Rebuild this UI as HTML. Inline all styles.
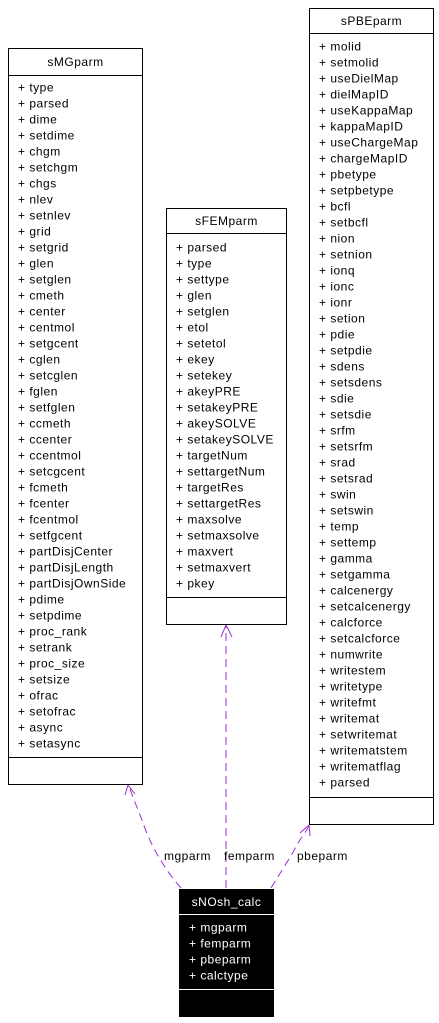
<!DOCTYPE html>
<html><head><meta charset="utf-8"><style>
html,body{margin:0;padding:0;background:#fff;}
svg{display:block;font-family:"Liberation Sans",Arial,sans-serif;font-size:12px;letter-spacing:0.5px;}
</style></head><body>
<svg id="d" width="439" height="1023" viewBox="0 0 439 1023">
<g id="edges" fill="none" stroke="#9a32cd" stroke-width="1" stroke-dasharray="8,5">
<path d="M181,888 C165,870 150,845 142,820 C136,805 132,795 129,786"/>
<path d="M226,888 L226,626"/>
<path d="M271,888 C282,870 292,855 298,843 C303,835 307,830 309,826"/>
</g>
<g stroke="#9a32cd" stroke-width="1" fill="none">
<path d="M125,795 L128,785 L135,794"/>
<path d="M221,637 L226,625 L232,637"/>
<path d="M300,833 L309,825 L310,836"/>
</g>
<g fill="#000">
<text x="164" y="860">mgparm</text>
<text x="224" y="860">femparm</text>
<text x="297" y="860">pbeparm</text>
</g>
<g id="boxes"></g>
</svg>
<script>
const NS="http://www.w3.org/2000/svg";
const mg=["type","parsed","dime","setdime","chgm","setchgm","chgs","nlev","setnlev","grid","setgrid","glen","setglen","cmeth","center","centmol","setgcent","cglen","setcglen","fglen","setfglen","ccmeth","ccenter","ccentmol","setcgcent","fcmeth","fcenter","fcentmol","setfgcent","partDisjCenter","partDisjLength","partDisjOwnSide","pdime","setpdime","proc_rank","setrank","proc_size","setsize","ofrac","setofrac","async","setasync"];
const fem=["parsed","type","settype","glen","setglen","etol","setetol","ekey","setekey","akeyPRE","setakeyPRE","akeySOLVE","setakeySOLVE","targetNum","settargetNum","targetRes","settargetRes","maxsolve","setmaxsolve","maxvert","setmaxvert","pkey"];
const pbe=["molid","setmolid","useDielMap","dielMapID","useKappaMap","kappaMapID","useChargeMap","chargeMapID","pbetype","setpbetype","bcfl","setbcfl","nion","setnion","ionq","ionc","ionr","setion","pdie","setpdie","sdens","setsdens","sdie","setsdie","srfm","setsrfm","srad","setsrad","swin","setswin","temp","settemp","gamma","setgamma","calcenergy","setcalcenergy","calcforce","setcalcforce","numwrite","writestem","writetype","writefmt","writemat","setwritemat","writematstem","writematflag","parsed"];
const calc=["mgparm","femparm","pbeparm","calctype"];
const g=document.getElementById('boxes');
function mk(t,a){const e=document.createElementNS(NS,t);for(const k in a)e.setAttribute(k,a[k]);g.appendChild(e);return e;}
function box(name,x,top,w,sep1,first,items,sep2,bottom,dark){
 const fg=dark?"#fff":"#000";
 const r=mk('rect',{x:x+0.5,y:top+0.5,width:w,height:bottom-top,fill:dark?"#000":"#fff",stroke:"#000"});
 
 
 const l1=mk('line',{x1:x,x2:x+w+1,y1:sep1+0.5,y2:sep1+0.5,stroke:fg});
 
 
 const l2=mk('line',{x1:x,x2:x+w+1,y1:sep2+0.5,y2:sep2+0.5,stroke:fg});
 
 
 const t=mk('text',{x:x+w/2+0.5,y:(top+sep1)/2+4.5,'text-anchor':'middle',fill:fg});
 t.textContent=name;
 
 
 items.forEach((s,i)=>{
  const e=mk('text',{x:x+10,y:first+i*16+4.5,fill:fg});
  e.textContent="+ "+s;
  
  
 });
}
box("sMGparm",8,48,134,75,87,mg,757,784,false);
box("sFEMparm",166,208,120,233,247,fem,597,624,false);
box("sPBEparm",309,8,124,33,46,pbe,797,824,false);
box("sNOsh_calc",179,889,94,914,927,calc,989,1016,true);
</script>
</body></html>
